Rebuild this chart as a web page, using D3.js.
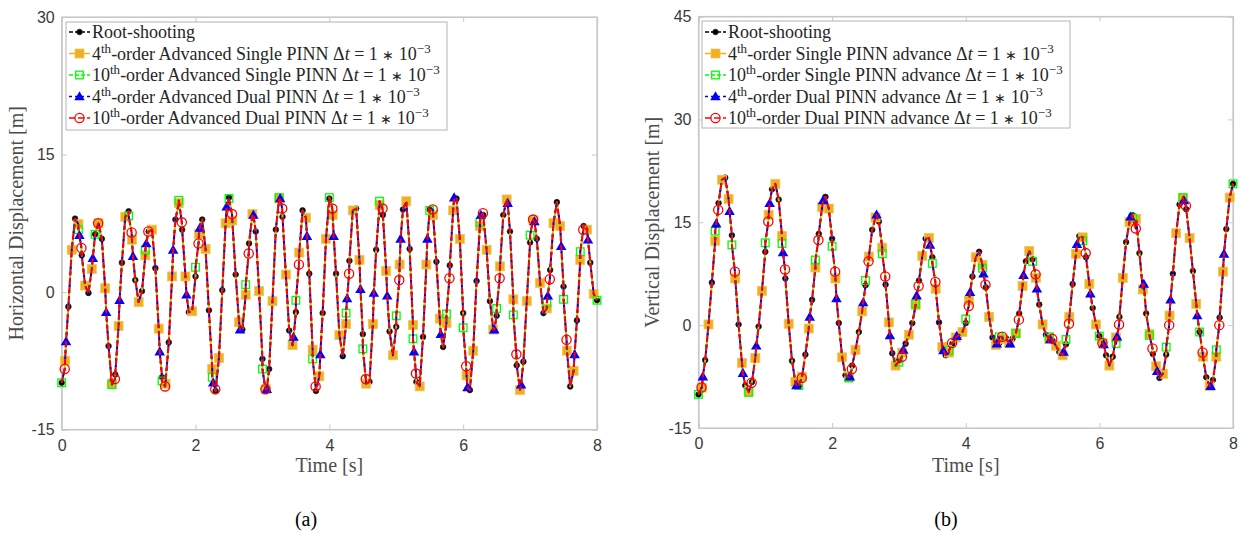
<!DOCTYPE html>
<html><head><meta charset="utf-8">
<script src="https://cdn.jsdelivr.net/npm/d3@7"></script>
<style>body{margin:0;background:#fff;} svg{display:block;}</style>
</head><body>
<svg id="chart" width="1246" height="534"></svg>
<script>
// ---------- tick labels ----------
const xTickValues = [0, 2, 4, 6, 8];
const yTickValuesA = [-15, 0, 15, 30];
const yTickValuesB = [-15, 0, 15, 30, 45];

// ---------- sample times (s) for each series' markers ----------
const rootTimes   = d3.range(0, 81).map(i => i / 10);            // every 0.1 s
const orangeTimes = d3.range(0, 80).map(i => (10 * i + 5) / 100); // 0.05 + 0.1 k
const greenTimes  = d3.range(0, 33).map(i => i / 4);             // every 0.25 s
const blueTimes   = d3.range(0, 40).map(i => (65 + 200 * i) / 1000);
const redTimes    = d3.range(0, 32).map(i => (45 + 250 * i) / 1000);

// ---------- (a) Horizontal displacement [m] ----------
const rootA = [-9.9,-1.6,8.0,4.0,-0.1,6.3,5.8,-5.9,-9.0,3.2,
  8.8,1.3,0.1,6.6,2.6,-9.3,-5.5,7.9,6.8,-2.2,
  1.7,7.9,-2.0,-10.8,0.2,10.3,1.9,-4.1,5.3,6.6,
  -7.3,-8.4,6.8,8.2,-4.2,-2.2,8.9,2.0,-10.8,-2.3,
  10.2,2.0,-7.0,3.4,9.1,-4.6,-9.8,4.6,8.4,-4.3,
  -3.8,9.0,4.7,-9.8,-4.9,9.0,3.3,-6.0,2.9,10.2,
  -2.3,-10.7,1.2,8.4,-1.0,-2.6,8.4,6.6,-8.0,-7.6,
  5.4,5.8,-2.3,2.4,9.8,0.6,-10.3,-3.1,7.2,3.2,
  -0.9];
const orangeA = [-7.5,4.6,7.4,0.7,2.5,7.5,0.4,-10.0,-3.7,8.2,
  5.7,-1.1,4.0,6.8,-4.0,-10.0,1.7,9.7,1.7,-2.1,
  6.3,4.7,-8.4,-7.2,7.5,7.8,-3.3,-0.3,8.5,0.1,
  -10.6,-1.0,10.2,1.9,-5.8,4.3,8.1,-6.3,-9.2,5.8,
  8.4,-4.7,-3.5,8.9,3.5,-10.0,-3.5,9.5,2.3,-6.9,
  3.0,9.9,-3.6,-10.3,3.0,8.4,-2.9,-3.4,8.9,5.8,
  -9.1,-6.4,7.2,4.6,-4.1,2.8,10.1,-0.8,-10.7,-1.0,
  7.8,1.0,-1.8,7.5,7.2,-6.4,-8.6,3.5,6.8,-0.2];
const greenA = [-9.9,6.8,6.3,-10.1,8.3,4.6,-9.7,10.0,2.7,-9.3,
  10.2,0.8,-8.4,10.3,-0.9,-7.3,10.3,-2.3,-6.2,9.9,
  -2.6,-5.1,8.9,-2.4,-3.9,7.6,-1.8,-2.5,6.2,-1.2,
  -0.8,4.4,-0.9];
const blueA = [-5.4,6.2,3.7,-2.2,-0.9,3.9,5.3,-6.5,4.6,-0.3,
  7.0,-9.9,9.3,-4.1,8.4,-10.6,10.2,-4.9,6.1,-6.8,
  6.1,-0.7,0.3,-0.1,-0.4,5.8,-6.5,5.8,-4.6,10.3,
  -10.4,8.4,-4.1,9.7,-10.1,7.7,-0.4,5.0,-6.8,5.7];
const redA = [-8.4,4.8,7.5,-9.5,6.5,6.6,-10.3,7.6,5.3,-10.6,
  8.5,4.2,-10.6,9.1,3.0,-10.3,9.1,2.0,-9.5,9.1,
  1.3,-8.9,9.0,1.5,-8.1,8.6,1.5,-6.8,7.9,1.4,
  -5.2,6.8];

// ---------- (b) Vertical displacement [m] ----------
const rootB = [-10.1,-5.1,6.2,17.8,21.5,13.1,0.1,-8.8,-8.3,-0.2,
  10.7,19.8,18.3,6.8,-5.2,-8.9,-4.3,3.7,13.3,18.7,
  12.6,0.3,-7.3,-5.9,-1.0,5.8,13.9,15.1,5.9,-4.1,
  -5.2,-2.7,0.3,6.5,12.6,9.9,0.4,-4.4,-2.7,-1.5,
  0.3,7.1,10.7,5.5,-1.8,-2.6,-1.9,-2.0,1.7,9.3,
  9.6,3.0,-1.4,-2.3,-3.9,-2.8,6.0,13.0,9.9,2.5,
  -1.6,-4.4,-4.6,1.2,12.1,16.0,10.5,1.7,-4.2,-7.7,
  -4.3,7.5,17.6,16.9,7.9,-1.0,-7.6,-8.0,1.1,14.0,
  20.6];
const orangeB = [-9.1,0.1,12.3,21.2,18.4,6.8,-5.5,-9.7,-4.8,5.0,
  16.1,20.6,13.0,0.2,-8.3,-7.5,-0.5,8.4,17.2,17.0,
  6.8,-4.7,-7.6,-3.6,2.0,10.0,15.7,11.3,0.4,-5.9,
  -4.0,-1.4,2.9,10.1,12.7,5.3,-3.2,-4.0,-1.8,-1.0,
  3.6,9.9,8.8,1.2,-2.9,-2.0,-2.6,-1.2,5.7,10.8,
  6.9,0.1,-2.0,-3.0,-4.4,1.2,10.4,12.8,6.0,0.1,
  -2.6,-5.9,-1.8,6.9,15.0,15.5,5.2,-1.3,-6.0,-7.1,
  1.4,13.4,18.5,12.7,3.1,-4.6,-8.9,-4.6,7.8,18.6];
const greenB = [-10.1,13.7,11.7,-9.8,12.0,11.9,-8.8,9.5,11.5,-7.7,
  6.5,10.4,-5.4,3.1,9.0,-3.7,0.9,8.3,-1.7,-1.2,
  9.3,-1.7,-2.1,12.3,-1.6,-2.7,15.6,-1.5,-3.2,18.6,
  -1.0,-3.6,20.6];
const blueB = [-7.5,14.8,16.6,-7.0,-3.0,17.8,10.6,-8.8,1.2,18.2,
  3.9,-7.5,3.3,16.1,-1.5,-3.6,4.3,11.7,-3.7,-1.6,
  4.8,7.5,-2.7,-2.7,7.3,5.3,-2.1,-3.9,11.8,4.6,
  -2.8,-1.7,15.8,6.0,-6.7,3.7,18.2,1.4,-8.9,10.4];
const redB = [-9.1,16.8,7.8,-8.4,15.1,8.1,-7.7,12.4,7.8,-6.4,
  9.3,7.1,-4.6,5.7,6.3,-2.6,2.8,5.9,-1.7,0.8,
  7.4,-2.0,0.2,10.5,-2.6,0.1,14.1,-3.4,0.0,17.4,
  -4.0,0.0];

// ---------- legend labels ----------
const legendA = [
  {pre:"Root-shooting"},
  {num:"4", mid:"-order Advanced Single PINN "},
  {num:"10", mid:"-order Advanced Single PINN "},
  {num:"4", mid:"-order Advanced Dual PINN "},
  {num:"10", mid:"-order Advanced Dual PINN "}
];
const legendB = [
  {pre:"Root-shooting"},
  {num:"4", mid:"-order Single PINN advance "},
  {num:"10", mid:"-order Single PINN advance "},
  {num:"4", mid:"-order Dual PINN advance "},
  {num:"10", mid:"-order Dual PINN advance "}
];

// ---------- styles ----------
const seriesStyle = [
  {key:"root",   color:"#000000", lw:1.3, dash:"4,2", marker:"dot"},
  {key:"orange", color:"#EDB120", lw:2.0, dash:null,  marker:"fsquare"},
  {key:"green",  color:"#00FF00", lw:1.5, dash:"4,2", marker:"osquare"},
  {key:"blue",   color:"#0000FF", lw:2.0, dash:"3,3", marker:"triangle"},
  {key:"red",    color:"#FF0000", lw:2.0, dash:"6,3", marker:"ocircle"}
];

const svg = d3.select("#chart");
const serif = "'Liberation Serif', 'Times New Roman', serif";
const sans = "'Liberation Sans', Arial, sans-serif";
const axisGray = "#c8c8c8";

function drawMarker(g, type, x, y, color) {
  if (type === "dot") {
    g.append("circle").attr("cx", x).attr("cy", y).attr("r", 2.8)
      .attr("fill", "#000").attr("stroke", "#222").attr("stroke-width", 0.8);
  } else if (type === "fsquare") {
    g.append("rect").attr("x", x - 4.5).attr("y", y - 4.5).attr("width", 9).attr("height", 9)
      .attr("fill", color).attr("stroke", "#F2C35A").attr("stroke-width", 0.8);
  } else if (type === "osquare") {
    g.append("rect").attr("x", x - 3.8).attr("y", y - 3.8).attr("width", 7.6).attr("height", 7.6)
      .attr("fill", "none").attr("stroke", color).attr("stroke-width", 1.3);
  } else if (type === "triangle") {
    g.append("path").attr("d", d3.symbol(d3.symbolTriangle, 48)())
      .attr("transform", `translate(${x},${y + 0.8})`).attr("fill", color);
  } else if (type === "ocircle") {
    g.append("circle").attr("cx", x).attr("cy", y).attr("r", 4.6)
      .attr("fill", "none").attr("stroke", color).attr("stroke-width", 1.3);
  }
}

function drawPanel(cfg) {
  const x = d3.scaleLinear().domain([0, 8]).range([cfg.left, cfg.right]);
  const y = d3.scaleLinear().domain(cfg.yDomain).range([cfg.bottom, cfg.top]);
  const g = svg.append("g");

  g.append("rect").attr("x", cfg.left).attr("y", cfg.top)
    .attr("width", cfg.right - cfg.left).attr("height", cfg.bottom - cfg.top)
    .attr("fill", "#fff").attr("stroke", axisGray).attr("stroke-width", 1.2);

  const fmt = d => String(d);
  const axB = g.append("g").attr("transform", `translate(0,${cfg.bottom})`)
    .call(d3.axisBottom(x).tickValues(xTickValues).tickSize(-5).tickPadding(10).tickFormat(fmt));
  const axT = g.append("g").attr("transform", `translate(0,${cfg.top})`)
    .call(d3.axisTop(x).tickValues(xTickValues).tickSize(-5).tickFormat(""));
  const axL = g.append("g").attr("transform", `translate(${cfg.left},0)`)
    .call(d3.axisLeft(y).tickValues(cfg.yTicks).tickSize(-5).tickPadding(7).tickFormat(fmt));
  const axR = g.append("g").attr("transform", `translate(${cfg.right},0)`)
    .call(d3.axisRight(y).tickValues(cfg.yTicks).tickSize(-5).tickFormat(""));
  [axB, axT, axL, axR].forEach(a => {
    a.select(".domain").attr("stroke", axisGray).attr("stroke-width", 1.2);
    a.selectAll(".tick line").attr("stroke", axisGray).attr("stroke-width", 1);
    a.selectAll(".tick text").attr("fill", "#3a3a3a").style("font-family", sans).style("font-size", "16px");
  });

  // shared curve through every plotted sample, sorted in time
  const all = [];
  cfg.series.forEach(s => s.times.forEach((t, i) => all.push([t, s.values[i]])));
  all.sort((a, b) => a[0] - b[0]);
  const line = d3.line().x(d => x(d[0])).y(d => y(d[1]));

  const plot = g.append("g");
  cfg.series.forEach((s, si) => {
    const st = seriesStyle[si];
    plot.append("path").datum(all).attr("d", line)
      .attr("fill", "none").attr("stroke", st.color).attr("stroke-width", st.lw)
      .attr("stroke-dasharray", st.dash).attr("stroke-linejoin", "round");
    const mg = plot.append("g");
    s.times.forEach((t, i) => drawMarker(mg, st.marker, x(t), y(s.values[i]), st.color));
  });

  g.append("text").attr("transform", `translate(${cfg.yTitleX},${(cfg.top + cfg.bottom) / 2}) rotate(-90)`)
    .attr("text-anchor", "middle").attr("fill", "#4d4d4d")
    .style("font-family", serif).style("font-size", "20px").text(cfg.yTitle);
  g.append("text").attr("x", (cfg.left + cfg.right) / 2).attr("y", 472)
    .attr("text-anchor", "middle").attr("fill", "#4d4d4d")
    .style("font-family", serif).style("font-size", "20px").text("Time [s]");

  g.append("text").attr("x", cfg.capX).attr("y", 526).attr("text-anchor", "middle")
    .attr("fill", "#000").style("font-family", serif).style("font-size", "20px").text(cfg.caption);

  // legend
  const lg = g.append("g");
  lg.append("rect").attr("x", cfg.leg.x).attr("y", cfg.leg.y).attr("width", cfg.leg.w).attr("height", cfg.leg.h)
    .attr("fill", "#fff").attr("stroke", "#b4b4b4").attr("stroke-width", 1);
  const rowY = [32, 53.5, 75, 96.5, 118];
  cfg.legend.forEach((item, i) => {
    const st = seriesStyle[i];
    const yy = rowY[i];
    const x0 = cfg.leg.x + 3, x1 = cfg.leg.x + 24;
    lg.append("line").attr("x1", x0).attr("x2", x1).attr("y1", yy).attr("y2", yy)
      .attr("stroke", st.color).attr("stroke-width", st.lw === 2 ? 1.5 : 1.3)
      .attr("stroke-dasharray", st.dash);
    drawMarker(lg, st.marker, (x0 + x1) / 2, yy, st.color);
    const t = lg.append("text").attr("x", cfg.leg.x + 26).attr("y", yy + 6)
      .attr("fill", "#262626").style("font-family", serif).style("font-size", "18px");
    if (item.pre) { t.text(item.pre); return; }
    t.append("tspan").text(item.num);
    t.append("tspan").attr("dy", -7).style("font-size", "13px").text("th");
    t.append("tspan").attr("dy", 7).text(item.mid + "\u0394");
    t.append("tspan").style("font-style", "italic").text("t");
    t.append("tspan").text(" = 1 ");
    t.append("tspan").style("font-size", "14px").text("\u2217");
    t.append("tspan").text(" 10");
    t.append("tspan").attr("dy", -7).style("font-size", "13px").text("\u22123");
  });
}

drawPanel({
  left: 61.7, right: 597, top: 17, bottom: 429.5, yDomain: [-15, 30], yTicks: yTickValuesA,
  yTitle: "Horizontal Displacement [m]", yTitleX: 23, caption: "(a)", capX: 306,
  leg: {x: 66, y: 22, w: 381, h: 108}, legend: legendA,
  series: [
    {times: rootTimes, values: rootA},
    {times: orangeTimes, values: orangeA},
    {times: greenTimes, values: greenA},
    {times: blueTimes, values: blueA},
    {times: redTimes, values: redA}
  ]
});
drawPanel({
  left: 698.5, right: 1233, top: 16.5, bottom: 428, yDomain: [-15, 45], yTicks: yTickValuesB,
  yTitle: "Vertical Displacement [m]", yTitleX: 659, caption: "(b)", capX: 946,
  leg: {x: 702, y: 21, w: 368, h: 107}, legend: legendB,
  series: [
    {times: rootTimes, values: rootB},
    {times: orangeTimes, values: orangeB},
    {times: greenTimes, values: greenB},
    {times: blueTimes, values: blueB},
    {times: redTimes, values: redB}
  ]
});
</script>
</body></html>
